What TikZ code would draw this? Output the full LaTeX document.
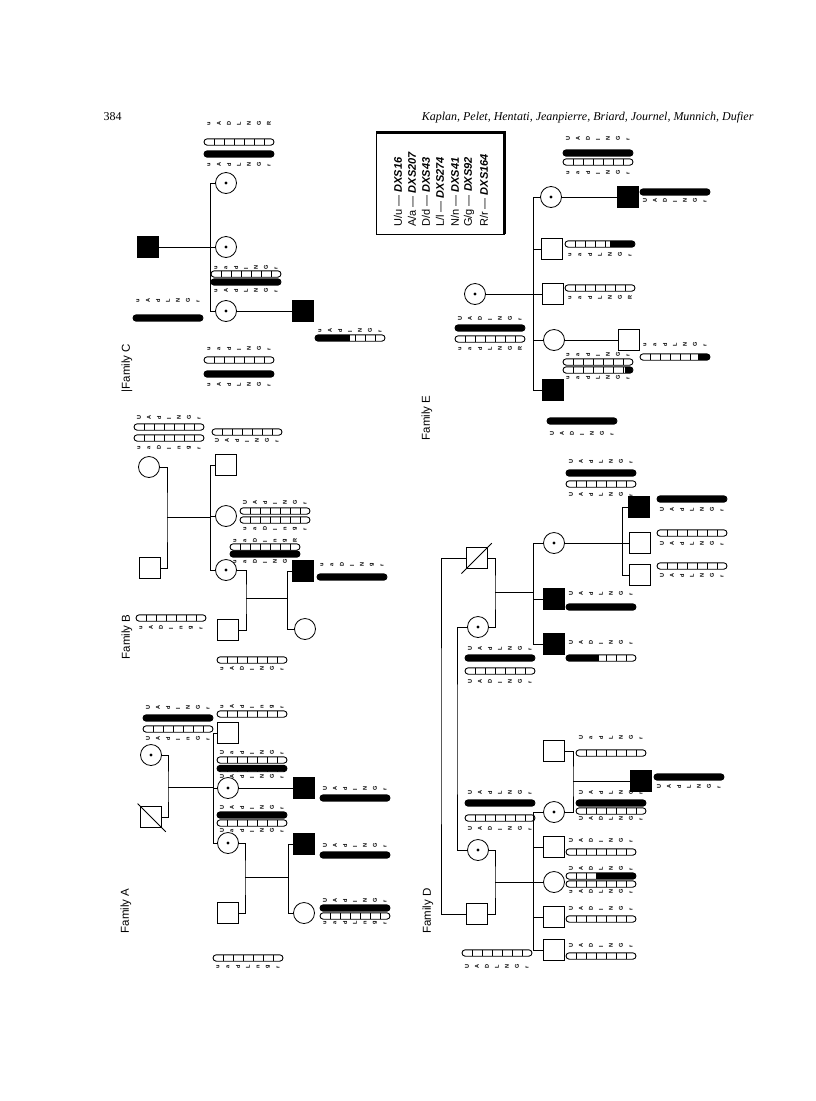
\documentclass[tikz,border=0pt]{standalone}
\usepackage{fontspec}
\setmainfont{Liberation Serif}
\setsansfont{Liberation Sans}
\usepackage{graphicx}
\usetikzlibrary{calc}

% haplotype rows: letters and 7-cell bars
\newcounter{hrow}
\newcommand\hletter[1]{\makebox[10pt]{\rotatebox{90}{#1}}}
\newcommand\hletters[7]{\hletter{#1}\hletter{#2}\hletter{#3}\hletter{#4}\hletter{#5}\hletter{#6}\hletter{#7}}
\newcommand\haplet[3]{\stepcounter{hrow}\node[hlet] (hl\the\value{hrow}) at (#1+35,#2) {\hletters#3};}
\newcommand\hapbar[4]{%
  \begin{scope}[shift={(#1,#2)}]
    \begin{scope}
      \clip[rounded corners=3.2pt] (0,-3.2) rectangle (70,3.2);
      \fill (#3*10,-3.2) rectangle (#4*10,3.2);
    \end{scope}
    \foreach \k in {1,...,6} \draw[line width=0.6pt] (\k*10,-3.2) -- (\k*10,3.2);
    \draw[line width=0.9pt, rounded corners=3.2pt] (0,-3.2) rectangle (70,3.2);
  \end{scope}}

\begin{document}
\begin{tikzpicture}[x=1pt, y=-1pt,
  every node/.style={font=\sffamily},
  male/.style={draw, rectangle, minimum size=21pt, inner sep=0pt, line width=1.6pt},
  female/.style={draw, circle, minimum size=21pt, inner sep=0pt, line width=0.8pt},
  aff/.style={fill=black},
  carrier/.style={female, path picture={\fill (path picture bounding box.center) circle (1.6pt);}},
  line/.style={line width=0.8pt},
  famlab/.style={rotate=90, font=\sffamily\fontsize{11.5}{12}\selectfont},
  hlet/.style={inner sep=0pt, font=\sffamily\bfseries\fontsize{5.6}{6}\selectfont},
  legtext/.style={rotate=90, anchor=west, inner sep=0pt, font=\sffamily\fontsize{11}{12}\selectfont}
]
\useasboundingbox (0,0) rectangle (816,1101);

% ===== Running head =====
\node[font=\rmfamily\fontsize{12}{14}\selectfont, anchor=base west] (pageno) at (100,120) {384};
\node[font=\rmfamily\itshape\fontsize{12}{14}\selectfont, anchor=base east] (authors) at (757,120)
  {Kaplan, Pelet, Hentati, Jeanpierre, Briard, Journel, Munnich, Dufier};

% ===== Family A =====
\node[famlab] (labA) at (126,911) {Family A};
\node[carrier] (amom) at (151,755) {};
\node[male] (adad) at (151,817) {};
\draw[line width=0.9pt, shorten <=-3pt, shorten >=-5pt] (adad.north west) -- (adad.south east);
\node[male] (a1) at (228,733) {};
\node[carrier] (a2) at (228,788) {};
\node[carrier] (a3) at (228,843) {};
\node[male, aff] (a4) at (304,788) {};
\node[male] (a5) at (228,913) {};
\node[male, aff] (a6) at (304,844) {};
\node[female] (a7) at (304,913) {};
\coordinate (matA) at (168,787);
\coordinate (sibA) at (213,787);
\coordinate (matA2) at (245,877);
\coordinate (sibA2) at (288,877);

\draw[line] (amom.east) -| (matA) |- (adad.east);
\draw[line] (matA) -- (sibA);
\draw[line] (sibA) |- (a1.west);
\draw[line] (sibA) |- (a2.west);
\draw[line] (sibA) |- (a3.west);
\draw[line] (a2.east) -- (a4.west);
\draw[line] (a3.east) -| (matA2) |- (a5.east);
\draw[line] (matA2) -- (sibA2);
\draw[line] (sibA2) |- (a6.west);
\draw[line] (sibA2) |- (a7.west);

\haplet{143}{707}{UAdlNGr} \hapbar{143}{718}{0}{7} \hapbar{143}{729}{0}{0} \haplet{143}{738}{UAdlnGr}
\haplet{217}{706}{uAdlngr} \hapbar{217}{714}{0}{0}
\haplet{217}{752}{UadlNGr} \hapbar{217}{760}{0}{0} \hapbar{217}{768.5}{0}{7} \haplet{217}{776}{UAdlNGr}
\haplet{217}{807}{UAdlNGr} \hapbar{217}{815}{0}{7} \hapbar{217}{823}{0}{0} \haplet{217}{830}{UadlNGr}
\haplet{320}{788}{UAdlNGr} \hapbar{320}{798}{0}{7}
\haplet{320}{845}{UAdlNGr} \hapbar{320}{855}{0}{7}
\haplet{320}{900}{UAdlNGr} \hapbar{320}{908}{0}{7} \hapbar{320}{916}{0}{0} \haplet{320}{923}{uadLngr}
\hapbar{213}{958}{0}{0} \haplet{213}{967}{uadLngr}

% ===== Family B =====
\node[famlab] (labB) at (127,637) {Family B};
\node[female] (bmom) at (149,467) {};
\node[male] (bdad) at (150,568) {};
\node[male] (b1) at (226,465) {};
\node[female] (b2) at (226,516) {};
\node[carrier] (b3) at (226,570) {};
\node[male] (b4) at (228,630) {};
\node[male, aff] (b5) at (303,571) {};
\node[female] (b6) at (305,629) {};
\coordinate (matB) at (167,517);
\coordinate (sibB) at (210,517);
\coordinate (matB2) at (246,598);
\coordinate (sibB2) at (287,598);

\draw[line] (bmom.east) -| (matB) |- (bdad.east);
\draw[line] (matB) -- (sibB);
\draw[line] (sibB) |- (b1.west);
\draw[line] (sibB) |- (b2.west);
\draw[line] (sibB) |- (b3.west);
\draw[line] (b3.east) -| (matB2) |- (b4.east);
\draw[line] (matB2) -- (sibB2);
\draw[line] (sibB2) |- (b5.west);
\draw[line] (sibB2) |- (b6.west);

\haplet{134}{417}{UAdlNGr} \hapbar{134}{427}{0}{0} \hapbar{134}{438}{0}{0} \haplet{134}{447}{uaDlngr}
\hapbar{136}{618}{0}{0} \haplet{136}{627}{uADlngr}
\hapbar{212}{432}{0}{0} \haplet{212}{440}{UAdlNGr}
\haplet{240}{502}{UAdlNGr} \hapbar{240}{511}{0}{0} \hapbar{240}{520}{0}{0} \haplet{240}{528}{uaDlngr}
\haplet{230}{540}{uaDlngR} \hapbar{230}{547}{0}{0} \hapbar{230}{554}{0}{7} \haplet{230}{561}{uaDlNGr}
\haplet{317}{564}{uaDlNgr} \hapbar{317}{577}{0}{7}
\hapbar{217}{660}{0}{0} \haplet{217}{668}{uADlNGr}

% ===== Family C =====
\node[famlab] (labC) at (127,368) {|Family C};
\node[male, aff] (cdad) at (148,247) {};
\node[carrier] (c1) at (226,183) {};
\node[carrier] (c2) at (226,247) {};
\node[carrier] (c3) at (226,311) {};
\node[male, aff] (c4) at (303,311) {};
\coordinate (sibC) at (210,247);

\draw[line] (cdad.east) -- (sibC);
\draw[line] (sibC) |- (c1.west);
\draw[line] (sibC) |- (c2.west);
\draw[line] (sibC) |- (c3.west);
\draw[line] (c3.east) -- (c4.west);

\haplet{133}{300}{uAdLNGr} \hapbar{133}{318}{0}{7}
\haplet{204}{123}{uADLNGR} \hapbar{204}{142}{0}{0} \hapbar{204}{154}{0}{7} \haplet{204}{164}{uAdLNGr}
\haplet{211}{267}{uadlNGr} \hapbar{211}{274}{0}{0} \hapbar{211}{282}{0}{7} \haplet{211}{290}{uAdLNGr}
\haplet{204}{348}{uadlNGr} \hapbar{204}{360}{0}{0} \hapbar{204}{374}{0}{7} \haplet{204}{384}{uAdLNGr}
\haplet{315}{330}{uAdlNGr} \hapbar{315}{338}{0}{3.5}

% ===== Marker legend =====
\draw[line width=0.8pt] (376,131) rectangle (504,234);
\draw[line width=3pt] (376,132) -- (504,132) -- (504,234);
\node[legtext] (lg1) at (398,227) {U/u --- \textbf{\textit{DXS16}}};
\node[legtext] (lg2) at (412,227) {A/a --- \textbf{\textit{DXS207}}};
\node[legtext] (lg3) at (426,227) {D/d --- \textbf{\textit{DXS43}}};
\node[legtext] (lg4) at (440,227) {L/l --- \textbf{\textit{DXS274}}};
\node[legtext] (lg5) at (455,227) {N/n --- \textbf{\textit{DXS41}}};
\node[legtext] (lg6) at (469,227) {G/g --- \textbf{\textit{DXS92}}};
\node[legtext] (lg7) at (484,227) {R/r --- \textbf{\textit{DXS164}}};

% ===== Family E =====
\node[famlab] (labE) at (427,418) {Family E};
\node[carrier] (emom) at (475,294) {};
\node[carrier] (e1) at (551,197) {};
\node[male] (e2) at (552,249) {};
\node[male] (e3) at (553,294) {};
\node[female] (e4) at (554,340) {};
\node[male, aff] (e5) at (553,390) {};
\node[male, aff] (e6) at (628,197) {};
\node[male] (e7) at (629,340) {};
\coordinate (sibE) at (533,294);

\draw[line] (emom.east) -- (sibE);
\draw[line] (sibE) |- (e1.west);
\draw[line] (sibE) |- (e2.west);
\draw[line] (sibE) |- (e3.west);
\draw[line] (sibE) |- (e4.west);
\draw[line] (sibE) |- (e5.west);
\draw[line] (e1.east) -- (e6.west);
\draw[line] (e4.east) -- (e7.west);

\haplet{455}{318}{UADlNGr} \hapbar{455}{328}{0}{7} \hapbar{455}{339}{0}{0} \haplet{455}{348}{uadLNGR}
\haplet{563}{138}{UADlNGr} \hapbar{563}{153}{0}{7} \hapbar{563}{162}{0}{0} \haplet{563}{172}{uadlNGr}
\hapbar{640}{192}{0}{7} \haplet{640}{200}{UADlNGr}
\hapbar{565}{244}{4.5}{7} \haplet{565}{254}{uadLNGr}
\hapbar{565}{288}{0}{0} \haplet{565}{297}{uadLNGR}
\haplet{563}{354}{uadlNGr} \hapbar{563}{362}{0}{0} \hapbar{563}{370}{6.2}{7} \haplet{563}{377}{uadLNGr}
\haplet{640}{344}{uadLNGr} \hapbar{640}{357}{5.8}{7}
\hapbar{547}{421}{0}{7} \haplet{547}{433}{UADlNGr}

% ===== Family D =====
\node[famlab] (labD) at (428,911) {Family D};
\node[male] (ddad) at (477,558) {};
\draw[line width=0.9pt, shorten <=-6pt, shorten >=-5pt] (ddad.south west) -- (ddad.north east);
\node[carrier] (dmom) at (478,627) {};
\node[carrier] (d1) at (554,543) {};
\node[male, aff] (d2) at (554,599) {};
\node[male, aff] (d3) at (554,644) {};
\node[male, aff] (d4) at (639,507) {};
\node[male] (d5) at (640,543) {};
\node[male] (d6) at (640,575) {};
\node[carrier] (dmom2) at (478,850) {};
\node[male] (ddad2) at (477,914) {};
\node[male] (d12) at (554,751) {};
\node[carrier] (d7) at (554,812) {};
\node[male] (d8) at (554,847) {};
\node[female] (d9) at (554,882) {};
\node[male] (d10) at (554,917) {};
\node[male] (d11) at (554,950) {};
\node[male, aff] (d13) at (641,781) {};
\coordinate (matD) at (495,592);
\coordinate (sibD) at (533,592);
\coordinate (sibD1) at (622,543);
\coordinate (matD2) at (495,882);
\coordinate (sibD2) at (533,882);
\coordinate (matD3) at (573,781);
\coordinate (lnkD1) at (441,736);
\coordinate (lnkD2) at (457,740);

\draw[line] (ddad.east) -| (matD) |- (dmom.east);
\draw[line] (matD) -- (sibD);
\draw[line] (sibD) |- (d1.west);
\draw[line] (sibD) |- (d2.west);
\draw[line] (sibD) |- (d3.west);
\draw[line] (d1.east) -- (sibD1);
\draw[line] (sibD1) |- (d4.west);
\draw[line] (sibD1) |- (d5.west);
\draw[line] (sibD1) |- (d6.west);
\draw[line] (ddad.west) -| (lnkD1) |- (ddad2.west); % same man in both generations
\draw[line] (dmom.west) -| (lnkD2) |- (dmom2.west);
\draw[line] (dmom2.east) -| (matD2) |- (ddad2.east);
\draw[line] (matD2) -- (sibD2);
\draw[line] (sibD2) |- (d7.west);
\draw[line] (sibD2) |- (d8.west);
\draw[line] (sibD2) |- (d9.west);
\draw[line] (sibD2) |- (d10.west);
\draw[line] (sibD2) |- (d11.west);
\draw[line] (d12.east) -| (matD3) |- (d7.east);
\draw[line] (matD3) -- (d13.west);

\haplet{465}{648}{UAdLNGr} \hapbar{465}{658}{0}{7} \hapbar{465}{671}{0}{0} \haplet{465}{681}{UADlNGr}
\haplet{566}{461}{UAdLNGr} \hapbar{566}{473}{0}{7} \hapbar{566}{484}{0}{0} \haplet{566}{494}{UAdLNGr}
\hapbar{657}{499}{0}{7} \haplet{657}{509}{UAdLNGr}
\hapbar{657}{533}{0}{0} \haplet{657}{543}{UAdLNGr}
\hapbar{657}{566}{0}{0} \haplet{657}{575}{UAdLNGr}
\haplet{566}{593}{UAdLNGr} \hapbar{566}{607}{0}{7}
\haplet{566}{642}{UADlNGr} \hapbar{566}{658}{0}{3.3}
\haplet{465}{792}{UAdLNGr} \hapbar{465}{803}{0}{7} \hapbar{465}{818}{0}{0} \haplet{465}{828}{UADlNGr}
\hapbar{462}{953}{0}{0} \haplet{462}{966}{UADLNGr}
\haplet{576}{737}{UadLNGr} \hapbar{576}{753}{0}{0}
\hapbar{654}{777}{0}{7} \haplet{654}{786}{UAdLNGr}
\haplet{576}{792}{UAdLNGr} \hapbar{576}{803}{0}{7} \hapbar{576}{811}{0}{0} \haplet{576}{818}{UADLNGr}
\haplet{566}{840}{UADlNGr} \hapbar{566}{852}{0}{0}
\haplet{566}{868}{UADLNGr} \hapbar{566}{876}{3}{7} \hapbar{566}{884}{0}{0} \haplet{566}{891}{uADLNGr}
\haplet{566}{908}{UADlNGr} \hapbar{566}{919}{0}{0}
\haplet{566}{945}{UADlNGr} \hapbar{566}{956}{0}{0}
\end{tikzpicture}
\end{document}
